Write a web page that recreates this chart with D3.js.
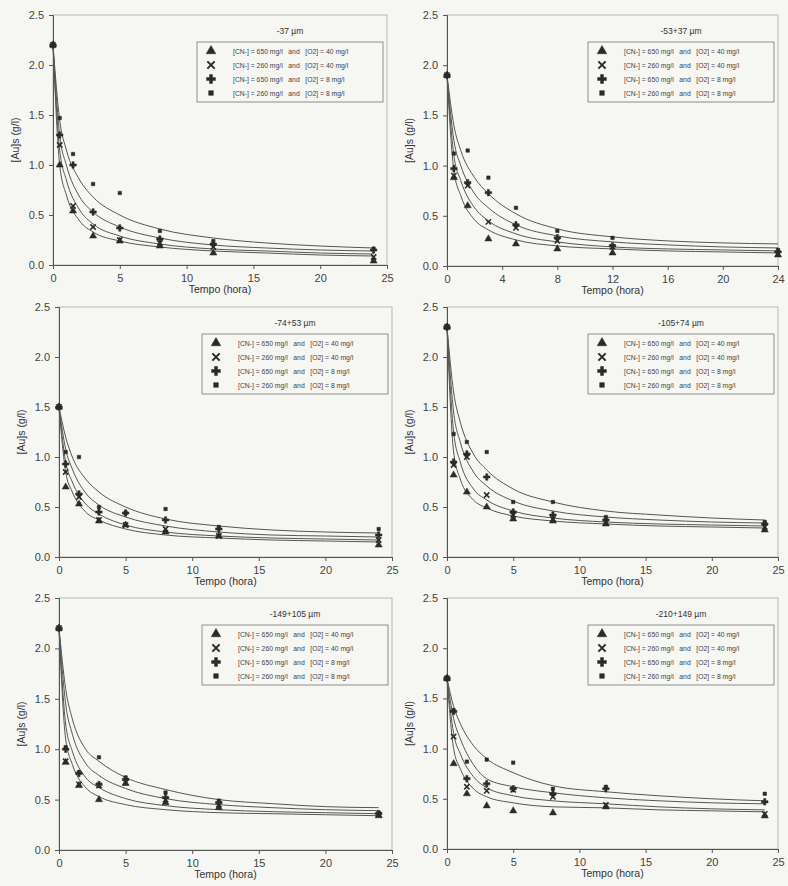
<!DOCTYPE html>
<html>
<head>
<meta charset="utf-8">
<script src="https://cdn.jsdelivr.net/npm/d3@7"></script>
<style>
  body { margin: 0; background: #f6f6f3; }
  svg { display: block; font-family: "Liberation Sans", Arial, sans-serif; }
</style>
</head>
<body>
<svg id="chart" width="788" height="886"></svg>
<script>
// Gold in solution vs leach time, six size fractions, four leach conditions each.

const sampleTimes = [0, 0.5, 1.5, 3, 5, 8, 12, 24];
const fitTimes = [0, 0.5, 1, 2, 3, 5, 8, 12, 16, 20, 24];

const sizeLabels = ['-37 \u00b5m', '-53+37 \u00b5m', '-74+53 \u00b5m', '-105+74 \u00b5m', '-149+105 \u00b5m', '-210+149 \u00b5m'];
const seriesLabels = [
  '[CN-] = 650 mg/l   and   [O2] = 40 mg/l',
  '[CN-] = 260 mg/l   and   [O2] = 40 mg/l',
  '[CN-] = 650 mg/l   and   [O2] = 8 mg/l',
  '[CN-] = 260 mg/l   and   [O2] = 8 mg/l'
];
const yTicks = [0, 0.5, 1.0, 1.5, 2.0, 2.5];
const xTicks25 = [0, 5, 10, 15, 20, 25];
const xTicks24 = [0, 4, 8, 12, 16, 20, 24];

// measured points, one row per condition (same order as seriesLabels)
const pts37 = [
  [2.2, 1.0, 0.54, 0.29, 0.24, 0.19, 0.12, 0.04],
  [2.2, 1.2, 0.59, 0.38, 0.25, 0.22, 0.18, 0.08],
  [2.2, 1.3, 1.0, 0.53, 0.37, 0.26, 0.21, 0.15],
  [2.2, 1.47, 1.11, 0.81, 0.72, 0.34, 0.24, 0.16]
];
const pts53 = [
  [1.9, 0.88, 0.6, 0.27, 0.22, 0.17, 0.13, 0.11],
  [1.9, 0.9, 0.8, 0.44, 0.38, 0.25, 0.19, 0.12],
  [1.9, 0.97, 0.83, 0.73, 0.41, 0.28, 0.2, 0.14],
  [1.9, 1.12, 1.15, 0.88, 0.58, 0.35, 0.28, 0.16]
];
const pts74 = [
  [1.5, 0.7, 0.53, 0.36, 0.32, 0.25, 0.21, 0.12],
  [1.5, 0.85, 0.6, 0.37, 0.32, 0.28, 0.21, 0.17],
  [1.5, 0.93, 0.63, 0.45, 0.44, 0.37, 0.28, 0.22],
  [1.5, 1.05, 1.0, 0.5, 0.44, 0.48, 0.3, 0.28]
];
const pts105 = [
  [2.3, 0.82, 0.65, 0.5, 0.38, 0.36, 0.33, 0.27],
  [2.3, 0.92, 1.0, 0.62, 0.42, 0.38, 0.35, 0.3],
  [2.3, 0.95, 1.03, 0.8, 0.45, 0.42, 0.37, 0.33],
  [2.3, 1.23, 1.15, 1.05, 0.55, 0.55, 0.4, 0.35]
];
const pts149 = [
  [2.2, 0.87, 0.64, 0.5, 0.66, 0.47, 0.42, 0.34],
  [2.2, 0.88, 0.65, 0.64, 0.67, 0.5, 0.45, 0.35],
  [2.2, 1.0, 0.76, 0.65, 0.7, 0.52, 0.47, 0.36],
  [2.2, 1.02, 0.77, 0.92, 0.72, 0.57, 0.49, 0.37]
];
const pts210 = [
  [1.7, 0.85, 0.55, 0.43, 0.38, 0.36, 0.42, 0.33],
  [1.7, 1.12, 0.62, 0.58, 0.59, 0.52, 0.44, 0.35],
  [1.7, 1.37, 0.7, 0.65, 0.6, 0.55, 0.6, 0.47],
  [1.7, 1.38, 0.87, 0.89, 0.86, 0.6, 0.62, 0.55]
];

// fitted curves at fitTimes
const fit37 = [
  [2.2, 1.0, 0.7, 0.44, 0.33, 0.24, 0.18, 0.14, 0.12, 0.1, 0.09],
  [2.2, 1.15, 0.85, 0.55, 0.41, 0.29, 0.21, 0.16, 0.14, 0.12, 0.11],
  [2.2, 1.3, 1.0, 0.68, 0.53, 0.38, 0.27, 0.2, 0.17, 0.15, 0.14],
  [2.2, 1.45, 1.15, 0.85, 0.68, 0.5, 0.36, 0.27, 0.22, 0.19, 0.17]
];
const fit53 = [
  [1.9, 0.95, 0.7, 0.46, 0.36, 0.26, 0.2, 0.17, 0.15, 0.14, 0.13],
  [1.9, 1.1, 0.85, 0.58, 0.45, 0.32, 0.24, 0.19, 0.17, 0.16, 0.15],
  [1.9, 1.25, 1.0, 0.72, 0.58, 0.41, 0.3, 0.24, 0.21, 0.19, 0.18],
  [1.9, 1.4, 1.15, 0.88, 0.72, 0.52, 0.37, 0.29, 0.25, 0.23, 0.22]
];
const fit74 = [
  [1.5, 0.85, 0.65, 0.45, 0.37, 0.28, 0.22, 0.19, 0.17, 0.16, 0.15],
  [1.5, 0.95, 0.75, 0.53, 0.43, 0.32, 0.25, 0.21, 0.19, 0.18, 0.17],
  [1.5, 1.08, 0.88, 0.64, 0.52, 0.4, 0.31, 0.25, 0.22, 0.21, 0.2],
  [1.5, 1.2, 1.0, 0.78, 0.65, 0.5, 0.38, 0.31, 0.27, 0.25, 0.24]
];
const fit105 = [
  [2.3, 1.05, 0.78, 0.57, 0.49, 0.41, 0.36, 0.33, 0.31, 0.3, 0.29],
  [2.3, 1.25, 0.95, 0.68, 0.57, 0.46, 0.39, 0.35, 0.33, 0.32, 0.31],
  [2.3, 1.45, 1.15, 0.85, 0.71, 0.56, 0.46, 0.4, 0.37, 0.35, 0.34],
  [2.3, 1.65, 1.35, 1.03, 0.87, 0.68, 0.55, 0.46, 0.42, 0.39, 0.37]
];
const fit149 = [
  [2.2, 1.1, 0.85, 0.62, 0.53, 0.45, 0.4, 0.37, 0.36, 0.35, 0.34],
  [2.2, 1.25, 0.98, 0.72, 0.62, 0.51, 0.44, 0.4, 0.38, 0.37, 0.36],
  [2.2, 1.45, 1.15, 0.86, 0.74, 0.61, 0.51, 0.45, 0.42, 0.4, 0.39],
  [2.2, 1.6, 1.3, 1.0, 0.88, 0.72, 0.6, 0.5, 0.46, 0.43, 0.42]
];
const fit210 = [
  [1.7, 1.0, 0.8, 0.6, 0.52, 0.46, 0.42, 0.41, 0.39, 0.38, 0.37],
  [1.7, 1.15, 0.95, 0.72, 0.61, 0.53, 0.48, 0.45, 0.42, 0.4, 0.39],
  [1.7, 1.3, 1.1, 0.84, 0.7, 0.62, 0.56, 0.51, 0.48, 0.46, 0.45],
  [1.7, 1.42, 1.25, 1.03, 0.9, 0.76, 0.63, 0.57, 0.53, 0.5, 0.48]
];

const symbolTypes = [d3.symbolTriangle, d3.symbolTimes, d3.symbolCross, d3.symbolSquare];
const symbolSizes = [22, 20, 24, 12];

const panels = [
  { title: sizeLabels[0], pts: pts37, fit: fit37, xMax: 25, xTicks: xTicks25, box: [53, 387, 15, 265] },
  { title: sizeLabels[1], pts: pts53, fit: fit53, xMax: 24, xTicks: xTicks24, box: [447, 778, 15, 266] },
  { title: sizeLabels[2], pts: pts74, fit: fit74, xMax: 25, xTicks: xTicks25, box: [59, 392, 307, 557] },
  { title: sizeLabels[3], pts: pts105, fit: fit105, xMax: 25, xTicks: xTicks25, box: [447, 778, 307, 557] },
  { title: sizeLabels[4], pts: pts149, fit: fit149, xMax: 25, xTicks: xTicks25, box: [59, 392, 598, 850] },
  { title: sizeLabels[5], pts: pts210, fit: fit210, xMax: 25, xTicks: xTicks25, box: [447, 778, 598, 849] }
];

const svg = d3.select('#chart');
const ink = '#2a2a2a';

panels.forEach(p => {
  const [x0, x1, y0, y1] = p.box;
  const x = d3.scaleLinear().domain([0, p.xMax]).range([x0, x1]);
  const y = d3.scaleLinear().domain([0, 2.5]).range([y1, y0]);
  const g = svg.append('g');

  // light frame on top / right
  g.append('rect')
    .attr('x', x0).attr('y', y0)
    .attr('width', x1 - x0).attr('height', y1 - y0)
    .attr('fill', 'none').attr('stroke', '#b8b8b8').attr('stroke-width', 1);

  // axes
  const yAxis = g.append('g')
    .attr('transform', `translate(${x0},0)`)
    .call(d3.axisLeft(y).tickValues(yTicks).tickFormat(d3.format('.1f')).tickSize(4).tickPadding(5));
  const xAxis = g.append('g')
    .attr('transform', `translate(0,${y1})`)
    .call(d3.axisBottom(x).tickValues(p.xTicks).tickFormat(d3.format('d')).tickSize(4).tickPadding(5));
  [xAxis, yAxis].forEach(a => {
    a.select('.domain').attr('stroke', '#555');
    a.selectAll('.tick line').attr('stroke', '#555');
    a.selectAll('text').attr('fill', '#444').style('font-size', '11px');
  });

  g.append('text')
    .attr('x', (x0 + x1) / 2).attr('y', y1 + 28)
    .attr('text-anchor', 'middle')
    .attr('fill', '#333').style('font-size', '10.5px')
    .text('Tempo (hora)');

  g.append('text')
    .attr('transform', `translate(${x0 - 34},${(y0 + y1) / 2}) rotate(-90)`)
    .attr('text-anchor', 'middle')
    .attr('fill', '#333').style('font-size', '10.5px')
    .text('[Au]s  (g/l)');

  // fitted curves
  const line = d3.line()
    .x((d, i) => x(fitTimes[i]))
    .y(d => y(d))
    .curve(d3.curveMonotoneX);
  p.fit.forEach(row => {
    g.append('path')
      .attr('d', line(row))
      .attr('fill', 'none')
      .attr('stroke', '#555')
      .attr('stroke-width', 1);
  });

  // measured points
  p.pts.forEach((row, s) => {
    const sym = d3.symbol().type(symbolTypes[s]).size(symbolSizes[s]);
    row.forEach((v, i) => {
      g.append('path')
        .attr('d', sym())
        .attr('transform', `translate(${x(sampleTimes[i])},${y(v)})`)
        .attr('fill', s === 1 ? 'none' : ink)
        .attr('stroke', ink)
        .attr('stroke-width', s === 1 ? 1.5 : 0.5);
    });
  });

  // legend
  const lx = x1 - 190, ly = y0 + 27, lw = 186, lh = 60;
  g.append('text')
    .attr('x', lx + lw / 2).attr('y', y0 + 19)
    .attr('text-anchor', 'middle')
    .attr('fill', '#333').style('font-size', '8.5px')
    .text(p.title);
  g.append('rect')
    .attr('x', lx).attr('y', ly).attr('width', lw).attr('height', lh)
    .attr('fill', 'none').attr('stroke', '#777').attr('stroke-width', 0.8);
  seriesLabels.forEach((lab, s) => {
    const cy = ly + 9 + s * 14;
    const sym = d3.symbol().type(symbolTypes[s]).size(symbolSizes[s] * 1.8);
    g.append('path')
      .attr('d', sym())
      .attr('transform', `translate(${lx + 14},${cy})`)
      .attr('fill', s === 1 ? 'none' : ink)
      .attr('stroke', ink)
      .attr('stroke-width', s === 1 ? 2 : 0.5);
    g.append('text')
      .attr('x', lx + 36).attr('y', cy + 2.5)
      .attr('fill', '#444').style('font-size', '6.8px')
      .attr('xml:space', 'preserve')
      .text(lab);
  });
});
</script>
</body>
</html>
